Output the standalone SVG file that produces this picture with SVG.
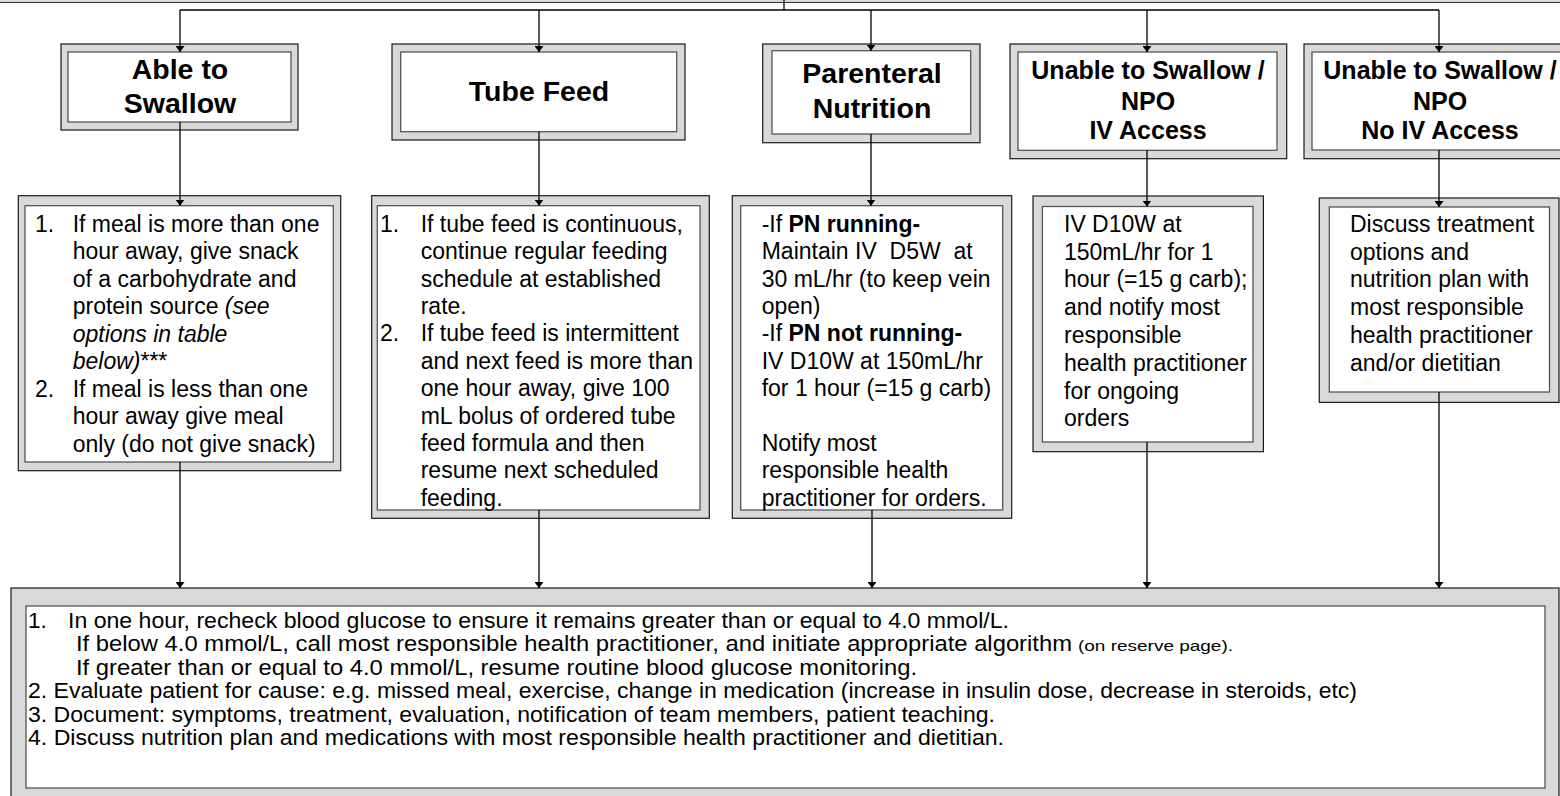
<svg xmlns="http://www.w3.org/2000/svg" width="1560" height="796" viewBox="0 0 1560 796">
<style>
.outer{fill:#d9d9d9;stroke:#1a1a1a;stroke-width:1.2}
.inner{fill:#fff;stroke:#555;stroke-width:1.3}
.hdr{font-family:"Liberation Sans",Arial,sans-serif;font-weight:bold;font-size:28.5px;text-anchor:middle;fill:#000}
.hdr2{font-size:25px}
.body{font-family:"Liberation Sans",Arial,sans-serif;font-size:23px;fill:#000;white-space:pre}
.foot{font-family:"Liberation Sans",Arial,sans-serif;font-size:22.5px;fill:#000;white-space:pre}
.small{font-size:15px}
.it{font-style:italic}
.b{font-weight:bold}
.conn{stroke:#000;stroke-width:1.3;fill:none}
</style>
<defs>
<marker id="arr" markerUnits="userSpaceOnUse" markerWidth="6" markerHeight="9" viewBox="0 0 6 9" refX="6" refY="4.5" orient="auto">
<path d="M0,0 L6,4.5 L0,9 z" fill="#000"/>
</marker>
</defs>
<rect width="1560" height="796" fill="#fff"/>
<g id="top-frame">
<rect x="0" y="0" width="1560" height="2" fill="#d9d9d9"/>
<line x1="0" y1="2.5" x2="1560" y2="2.5" stroke="#333" stroke-width="1.2"/>
</g>

<g id="h-able">
<rect class="outer" x="61" y="44" width="237" height="86"/>
<rect class="inner" x="68" y="52" width="223" height="70"/>
<text class="hdr" x="180" y="79">Able to</text>
<text class="hdr" x="180" y="113">Swallow</text>
</g>
<g id="h-tube">
<rect class="outer" x="392" y="44" width="293" height="96"/>
<rect class="inner" x="400.7" y="52" width="276" height="79.7"/>
<text class="hdr" x="539" y="100.7">Tube Feed</text>
</g>
<g id="h-pn">
<rect class="outer" x="762.7" y="44" width="217.3" height="98.7"/>
<rect class="inner" x="772" y="50.7" width="198.7" height="83.3"/>
<text class="hdr" x="872" y="83.3">Parenteral</text>
<text class="hdr" x="872" y="118.3">Nutrition</text>
</g>
<g id="h-npo-iv">
<rect class="outer" x="1010" y="44" width="276.7" height="114.7"/>
<rect class="inner" x="1018" y="52" width="259" height="98.3"/>
<text class="hdr hdr2" x="1148" y="79">Unable to Swallow /</text>
<text class="hdr hdr2" x="1148" y="110">NPO</text>
<text class="hdr hdr2" x="1148" y="139.3">IV Access</text>
</g>
<g id="h-npo-noiv">
<rect class="outer" x="1304" y="44" width="272" height="114.7"/>
<rect class="inner" x="1312" y="52" width="256" height="98"/>
<text class="hdr hdr2" x="1440" y="79">Unable to Swallow /</text>
<text class="hdr hdr2" x="1440" y="110">NPO</text>
<text class="hdr hdr2" x="1440" y="139.3">No IV Access</text>
</g>

<g id="r-able">
<rect class="outer" x="18.3" y="195.7" width="322.4" height="275"/>
<rect class="inner" x="25" y="205.7" width="308.3" height="256.3"/>
<text class="body">
<tspan x="35" y="231.7">1.</tspan><tspan x="72.7" y="231.7">If meal is more than one</tspan>
<tspan x="72.7" y="259.2">hour away, give snack</tspan>
<tspan x="72.7" y="286.7">of a carbohydrate and</tspan>
<tspan x="72.7" y="314.2">protein source <tspan class="it">(see</tspan></tspan>
<tspan x="72.7" y="341.7" class="it">options in table</tspan>
<tspan x="72.7" y="369.2"><tspan class="it">below)</tspan>***</tspan>
<tspan x="35" y="396.7">2.</tspan><tspan x="72.7" y="396.7">If meal is less than one</tspan>
<tspan x="72.7" y="424.2">hour away give meal</tspan>
<tspan x="72.7" y="451.7">only (do not give snack)</tspan>
</text>
</g>
<g id="r-tube">
<rect class="outer" x="371.7" y="195.7" width="337.6" height="322.6"/>
<rect class="inner" x="377.3" y="205.7" width="322.7" height="304.3"/>
<text class="body">
<tspan x="380" y="231.7">1.</tspan><tspan x="420.7" y="231.7">If tube feed is continuous,</tspan>
<tspan x="420.7" y="259.1">continue regular feeding</tspan>
<tspan x="420.7" y="286.5">schedule at established</tspan>
<tspan x="420.7" y="313.9">rate.</tspan>
<tspan x="380" y="341.3">2.</tspan><tspan x="420.7" y="341.3">If tube feed is intermittent</tspan>
<tspan x="420.7" y="368.7">and next feed is more than</tspan>
<tspan x="420.7" y="396.1">one hour away, give 100</tspan>
<tspan x="420.7" y="423.5">mL bolus of ordered tube</tspan>
<tspan x="420.7" y="450.9">feed formula and then</tspan>
<tspan x="420.7" y="478.3">resume next scheduled</tspan>
<tspan x="420.7" y="505.7">feeding.</tspan>
</text>
</g>
<g id="r-pn">
<rect class="outer" x="732.3" y="195.7" width="279.4" height="322.6"/>
<rect class="inner" x="740.7" y="205.7" width="262" height="304.3"/>
<text class="body">
<tspan x="761.7" y="231.7">-If <tspan class="b">PN running-</tspan></tspan>
<tspan x="761.7" y="259.1">Maintain IV  D5W  at</tspan>
<tspan x="761.7" y="286.5">30 mL/hr (to keep vein</tspan>
<tspan x="761.7" y="313.9">open)</tspan>
<tspan x="761.7" y="341.3">-If <tspan class="b">PN not running-</tspan></tspan>
<tspan x="761.7" y="368.7">IV D10W at 150mL/hr</tspan>
<tspan x="761.7" y="396.1">for 1 hour (=15 g carb)</tspan>
<tspan x="761.7" y="450.9">Notify most</tspan>
<tspan x="761.7" y="478.3">responsible health</tspan>
<tspan x="761.7" y="505.7">practitioner for orders.</tspan>
</text>
</g>
<g id="r-npo-iv">
<rect class="outer" x="1033" y="196" width="230.4" height="255.7"/>
<rect class="inner" x="1042.4" y="206.5" width="210.6" height="235.5"/>
<text class="body">
<tspan x="1064" y="231.7">IV D10W at</tspan>
<tspan x="1064" y="259.5">150mL/hr for 1</tspan>
<tspan x="1064" y="287.3">hour (=15 g carb);</tspan>
<tspan x="1064" y="315.1">and notify most</tspan>
<tspan x="1064" y="342.9">responsible</tspan>
<tspan x="1064" y="370.7">health practitioner</tspan>
<tspan x="1064" y="398.5">for ongoing</tspan>
<tspan x="1064" y="426.3">orders</tspan>
</text>
</g>
<g id="r-npo-noiv">
<rect class="outer" x="1319.3" y="198" width="239.7" height="204.4"/>
<rect class="inner" x="1329.3" y="207" width="220.2" height="185"/>
<text class="body">
<tspan x="1350" y="231.7">Discuss treatment</tspan>
<tspan x="1350" y="259.5">options and</tspan>
<tspan x="1350" y="287.3">nutrition plan with</tspan>
<tspan x="1350" y="315.1">most responsible</tspan>
<tspan x="1350" y="342.9">health practitioner</tspan>
<tspan x="1350" y="370.7">and/or dietitian</tspan>
</text>
</g>

<g id="b-followup">
<rect class="outer" x="11" y="588" width="1548" height="220"/>
<rect class="inner" x="26" y="606" width="1519" height="182"/>
<text class="foot" x="28" y="627.5">1.</text>
<text class="foot" x="68" y="627.5" textLength="941" lengthAdjust="spacingAndGlyphs">In one hour, recheck blood glucose to ensure it remains greater than or equal to 4.0 mmol/L.</text>
<text class="foot" x="76" y="651" textLength="996" lengthAdjust="spacingAndGlyphs">If below 4.0 mmol/L, call most responsible health practitioner, and initiate appropriate algorithm</text>
<text class="foot small" x="1078" y="651" textLength="155" lengthAdjust="spacingAndGlyphs">(on reserve page).</text>
<text class="foot" x="76" y="674.5" textLength="841" lengthAdjust="spacingAndGlyphs">If greater than or equal to 4.0 mmol/L, resume routine blood glucose monitoring.</text>
<text class="foot" x="28" y="698" textLength="1329" lengthAdjust="spacingAndGlyphs">2. Evaluate patient for cause: e.g. missed meal, exercise, change in medication (increase in insulin dose, decrease in steroids, etc)</text>
<text class="foot" x="28" y="721.5" textLength="967" lengthAdjust="spacingAndGlyphs">3. Document: symptoms, treatment, evaluation, notification of team members, patient teaching.</text>
<text class="foot" x="28" y="745" textLength="976" lengthAdjust="spacingAndGlyphs">4. Discuss nutrition plan and medications with most responsible health practitioner and dietitian.</text>
</g>

<g id="connectors" class="conn">
<path d="M784,0 V10"/>
<path d="M180,10 H1439"/>
<path d="M180,10 V52" marker-end="url(#arr)"/>
<path d="M539,10 V52" marker-end="url(#arr)"/>
<path d="M871,10 V50.7" marker-end="url(#arr)"/>
<path d="M1147,10 V52" marker-end="url(#arr)"/>
<path d="M1439,10 V52" marker-end="url(#arr)"/>
<path d="M180,122 V205.7" marker-end="url(#arr)"/>
<path d="M539,131.7 V205.7" marker-end="url(#arr)"/>
<path d="M871,134 V205.7" marker-end="url(#arr)"/>
<path d="M1147,150.3 V206.5" marker-end="url(#arr)"/>
<path d="M1439,150 V207" marker-end="url(#arr)"/>
<path d="M180,462 V588" marker-end="url(#arr)"/>
<path d="M539,510 V588" marker-end="url(#arr)"/>
<path d="M872,510 V588" marker-end="url(#arr)"/>
<path d="M1147,442 V588" marker-end="url(#arr)"/>
<path d="M1439,392 V588" marker-end="url(#arr)"/>
</g>
</svg>
